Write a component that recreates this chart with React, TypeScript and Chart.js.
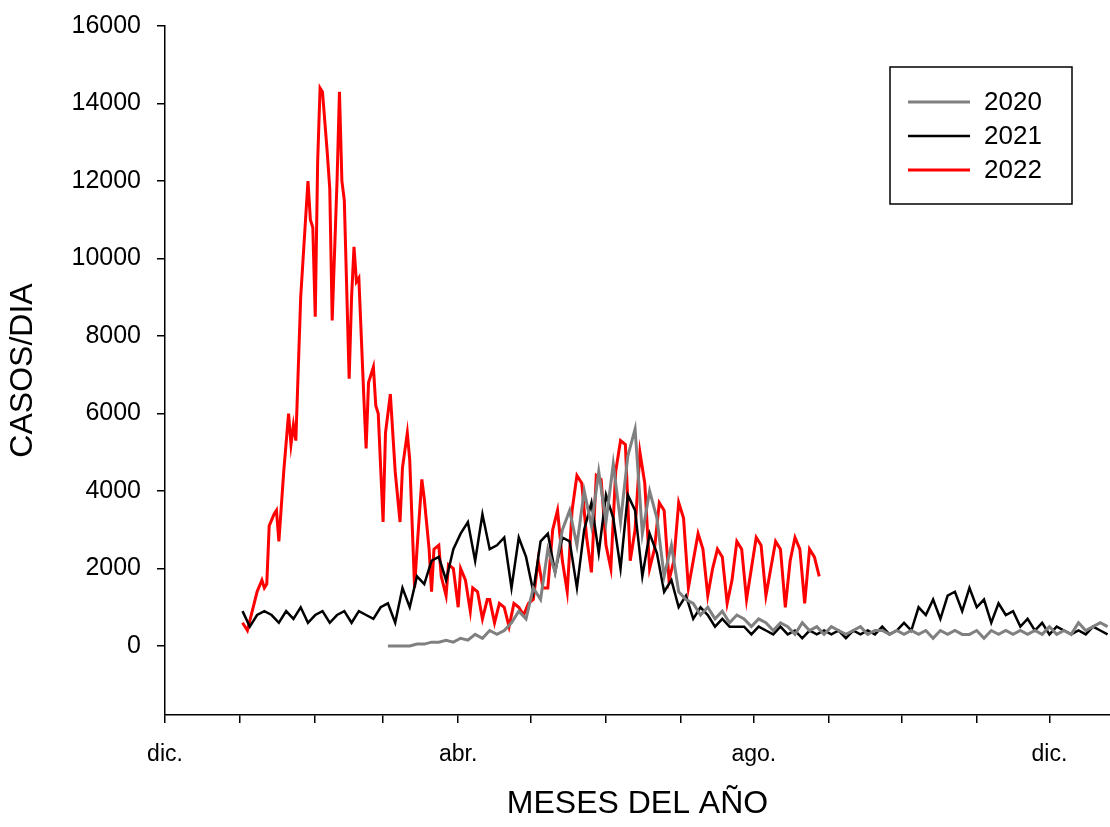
import React, { useEffect, useRef } from "react";
import { Chart, registerables } from "chart.js";
Chart.register(...registerables);

const monthStarts = [0, 31, 62, 90, 121, 151, 182, 213, 243, 274, 304, 335, 365];
const monthLabels: Record<number, string> = { 0: "dic.", 121: "abr.", 243: "ago.", 365: "dic." };
const yTicks = [0, 2000, 4000, 6000, 8000, 10000, 12000, 14000, 16000];

const red2022: [number, number][] = [
  [32,600],[34,400],[36,900],[38,1400],[40,1700],[41,1500],[42,1600],[43,3100],[45,3400],[46,3500],[47,2700],[49,4500],[51,6000],[52,5200],[53,5700],[54,5300],[56,9000],[59,12000],[60,11000],[61,10800],[62,8500],[63,12500],[64,14400],[65,14300],[67,12700],[68,11800],[69,8400],[71,12000],[72,14300],[73,12000],[74,11500],[76,6900],[77,9000],[78,10300],[79,9400],[80,9500],[82,6500],[83,5100],[84,6800],[86,7200],[87,6200],[88,6000],[90,3200],[91,5500],[93,6500],[94,5500],[95,4500],[97,3200],[98,4600],[100,5500],[101,4800],[103,1500],[104,2500],[106,4300],[107,3800],[109,2500],[110,1400],[111,2500],[113,2600],[114,1800],[116,1300],[117,2100],[119,2000],[121,1000],[122,2000],[124,1700],[126,900],[127,1500],[129,1400],[131,700],[133,1200],[134,1200],[136,600],[138,1100],[140,1000],[142,500],[144,1100],[146,1000],[148,800],[150,1100],[152,1200],[154,2200],[156,1500],[158,1500],[160,3000],[162,3500],[164,2200],[166,1400],[168,3500],[170,4400],[172,4200],[174,2800],[176,1900],[178,4400],[180,4300],[182,2600],[184,2000],[186,4500],[188,5300],[190,5200],[192,2200],[194,3000],[196,5000],[198,4200],[200,2000],[202,2500],[204,3700],[206,3500],[208,1700],[210,2200],[212,3700],[214,3300],[216,1500],[218,2200],[220,2900],[222,2500],[224,1300],[226,2000],[228,2500],[230,2300],[232,1100],[234,1700],[236,2700],[238,2500],[240,1200],[242,2000],[244,2800],[246,2600],[248,1300],[250,2000],[252,2700],[254,2500],[256,1000],[258,2200],[260,2800],[262,2500],[264,1100],[266,2500],[268,2300],[270,1800]
];

const black2021: [number, number][] = [
  [32,900],[35,500],[38,800],[41,900],[44,800],[47,600],[50,900],[53,700],[56,1000],[59,600],[62,800],[65,900],[68,600],[71,800],[74,900],[77,600],[80,900],[83,800],[86,700],[89,1000],[92,1100],[95,600],[98,1500],[101,1000],[104,1800],[107,1600],[110,2200],[113,2300],[116,1700],[119,2500],[122,2900],[125,3200],[128,2200],[131,3400],[134,2500],[137,2600],[140,2800],[143,1500],[146,2800],[149,2300],[152,1400],[155,2700],[158,2900],[161,1900],[164,2800],[167,2700],[170,1500],[173,3000],[176,3700],[179,2400],[182,3900],[185,3300],[188,2000],[191,3900],[194,3500],[197,1800],[200,2900],[203,2400],[206,1400],[209,1700],[212,1000],[215,1300],[218,700],[221,1000],[224,800],[227,500],[230,700],[233,500],[236,500],[239,500],[242,300],[245,500],[248,400],[251,300],[254,500],[257,300],[260,400],[263,200],[266,400],[269,300],[272,400],[275,300],[278,400],[281,200],[284,400],[287,300],[290,400],[293,300],[296,500],[299,300],[302,400],[305,600],[308,400],[311,1000],[314,800],[317,1200],[320,700],[323,1300],[326,1400],[329,900],[332,1500],[335,1000],[338,1200],[341,600],[344,1100],[347,800],[350,900],[353,500],[356,700],[359,400],[362,600],[365,300],[368,500],[371,400],[374,300],[377,400],[380,300],[383,500],[386,400],[389,300]
];

const gray2020: [number, number][] = [
  [92,0],[95,0],[98,0],[101,0],[104,50],[107,50],[110,100],[113,100],[116,150],[119,100],[122,200],[125,150],[128,300],[131,200],[134,400],[137,300],[140,400],[143,600],[146,900],[149,700],[152,1500],[155,1200],[158,2500],[161,1900],[164,3000],[167,3500],[170,2600],[173,4000],[176,3100],[179,4500],[182,3200],[185,4700],[188,3200],[191,4900],[194,5600],[197,2900],[200,4000],[203,3300],[206,1800],[209,2600],[212,1400],[215,1200],[218,1100],[221,800],[224,1000],[227,700],[230,900],[233,600],[236,800],[239,700],[242,500],[245,700],[248,600],[251,400],[254,600],[257,500],[260,300],[263,600],[266,400],[269,500],[272,300],[275,500],[278,400],[281,300],[284,400],[287,500],[290,300],[293,400],[296,400],[299,300],[302,400],[305,300],[308,400],[311,300],[314,400],[317,200],[320,400],[323,300],[326,400],[329,300],[332,300],[335,400],[338,200],[341,400],[344,300],[347,400],[350,300],[353,400],[356,300],[359,400],[362,300],[365,500],[368,300],[371,400],[374,300],[377,600],[380,400],[383,500],[386,600],[389,500]
];

const FONT = "'Liberation Sans', Arial, sans-serif";
const SHIFT = 5;

export default function App() {
  const ref = useRef<HTMLCanvasElement>(null);
  useEffect(() => {
    const toPts = (a: [number, number][]) => a.map(([x, y]) => ({ x, y }));
    const legendPlugin = {
      id: "boxLegend",
      afterDraw(chart: any) {
        const ctx = chart.ctx;
        ctx.save();
        ctx.strokeStyle = "#000";
        ctx.lineWidth = 1.5;
        ctx.strokeRect(890, 67 + SHIFT, 182, 137);
        chart.data.datasets.forEach((ds: any, i: number) => {
          const y = 102 + SHIFT + i * 34;
          ctx.strokeStyle = ds.borderColor;
          ctx.lineWidth = ds.borderWidth;
          ctx.beginPath();
          ctx.moveTo(908, y);
          ctx.lineTo(970, y);
          ctx.stroke();
          ctx.fillStyle = "#000";
          ctx.font = `26px ${FONT}`;
          ctx.textBaseline = "middle";
          ctx.fillText(ds.label, 984, y + 1);
        });
        ctx.restore();
      },
    };
    const chart = new Chart(ref.current!, {
      type: "line",
      data: {
        datasets: [
          { label: "2020", data: toPts(gray2020), borderColor: "#808080", borderWidth: 3, pointRadius: 0, tension: 0 },
          { label: "2021", data: toPts(black2021), borderColor: "#000000", borderWidth: 2.5, pointRadius: 0, tension: 0 },
          { label: "2022", data: toPts(red2022), borderColor: "#ff0000", borderWidth: 3, pointRadius: 0, tension: 0 },
        ],
      },
      options: {
        animation: false,
        responsive: false,
        layout: { padding: { top: 20, right: 0, left: 0, bottom: 0 } },
        plugins: { legend: { display: false }, tooltip: { enabled: false } },
        scales: {
          x: {
            type: "linear",
            min: 0,
            max: 390,
            afterBuildTicks: (s: any) => { s.ticks = monthStarts.map((v) => ({ value: v })); },
            afterFit: (s: any) => { s.height = 112; },
            ticks: {
              autoSkip: false,
              maxRotation: 0,
              padding: 18,
              color: "#000",
              font: { family: FONT, size: 23 },
              callback: (v: any) => monthLabels[v as number] ?? "",
            },
            grid: { drawOnChartArea: false, drawTicks: true, tickLength: 8, color: "#000", lineWidth: 1.5 },
            border: { display: true, color: "#000", width: 1.5 },
            title: { display: true, text: "MESES DEL AÑO", color: "#000", font: { family: FONT, size: 32 }, padding: { top: 12 } },
          },
          y: {
            min: -1780,
            max: 16000,
            afterBuildTicks: (s: any) => { s.ticks = yTicks.map((v) => ({ value: v })); },
            afterFit: (s: any) => { s.width = 165; },
            ticks: { color: "#000", font: { family: FONT, size: 25 }, padding: 16, callback: (v: any) => String(v) },
            grid: { drawOnChartArea: false, drawTicks: true, tickLength: 8, color: "#000", lineWidth: 1.5 },
            border: { display: true, color: "#000", width: 1.5 },
            title: { display: true, text: "CASOS/DIA", color: "#000", font: { family: FONT, size: 32 }, padding: { bottom: 4 } },
          },
        },
      },
      plugins: [legendPlugin],
    } as any);
    return () => chart.destroy();
  }, []);
  return (
    <div style={{ position: "fixed", left: 0, top: -SHIFT, width: 1110, height: 827 + SHIFT, background: "#fff" }}>
      <canvas ref={ref} width={1110} height={827 + SHIFT} style={{ width: 1110, height: 827 + SHIFT }} />
    </div>
  );
}
